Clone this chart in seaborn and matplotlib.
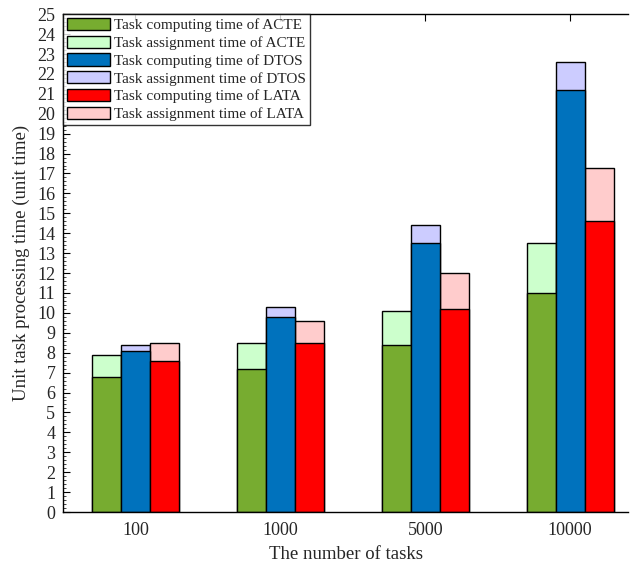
import pandas as pd
import seaborn as sns
import matplotlib.pyplot as plt
import matplotlib.ticker as ticker
from matplotlib.patches import Patch

# values
tasks = ['100', '1000', '5000', '10000']
methods = ['ACTE', 'DTOS', 'LATA']
compute_acte = [6.8, 7.2, 8.4, 11.0]
assign_acte = [1.1, 1.3, 1.7, 2.5]
compute_dtos = [8.1, 9.8, 13.5, 21.2]
assign_dtos = [0.3, 0.5, 0.9, 1.4]
compute_lata = [7.6, 8.5, 10.2, 14.6]
assign_lata = [0.9, 1.1, 1.8, 2.7]

dark = {'ACTE': '#77AC30', 'DTOS': '#0072BD', 'LATA': '#FF0000'}
light = {'ACTE': '#CCFFCC', 'DTOS': '#CCCCFF', 'LATA': '#FFCCCC'}


def main():
	comp = {'ACTE': compute_acte, 'DTOS': compute_dtos, 'LATA': compute_lata}
	asg = {'ACTE': assign_acte, 'DTOS': assign_dtos, 'LATA': assign_lata}

	rows = []
	for m in methods:
		for i, t in enumerate(tasks):
			rows.append({'tasks': t, 'method': m, 'compute': comp[m][i],
						 'total': comp[m][i] + asg[m][i]})
	data = pd.DataFrame(rows)

	sns.set_style('ticks')
	plt.rcParams['font.family'] = ['Liberation Serif', 'DejaVu Serif']

	fig = plt.figure(figsize=(6.3, 5.67), dpi=100)
	ax = fig.add_axes([0.1, 0.097, 0.897, 0.878])

	# total height first (assignment colour), computing part on top of it
	sns.barplot(data=data, x='tasks', y='total', hue='method', order=tasks,
				hue_order=methods, palette=light, width=0.6, saturation=1,
				edgecolor='black', linewidth=1, legend=False, ax=ax)
	sns.barplot(data=data, x='tasks', y='compute', hue='method', order=tasks,
				hue_order=methods, palette=dark, width=0.6, saturation=1,
				edgecolor='black', linewidth=1, legend=False, ax=ax)

	ax.set_xlim(-0.5, 3.4)
	ax.set_ylim(0, 25)
	ax.yaxis.set_major_locator(ticker.MultipleLocator(1))
	ax.yaxis.set_minor_locator(ticker.MultipleLocator(0.2))
	ax.tick_params(axis='both', which='major', direction='in', labelsize=13,
				   length=5, width=0.8, top=True, right=False, color='black')
	ax.tick_params(axis='x', which='major', pad=7)
	ax.tick_params(axis='y', which='major', pad=5.5)
	ax.tick_params(axis='y', which='minor', direction='in', length=2.5, width=0.6)
	for side in ['left', 'bottom', 'top']:
		ax.spines[side].set_visible(True)
		ax.spines[side].set_linewidth(1)
		ax.spines[side].set_color('black')
	ax.spines['right'].set_visible(False)

	ax.set_xlabel('The number of tasks', fontsize=13.5, labelpad=5)
	ax.set_ylabel('Unit task processing time (unit time)', fontsize=13.5, labelpad=5)

	handles = []
	labels = []
	for m in methods:
		handles.append(Patch(facecolor=dark[m], edgecolor='black', linewidth=1))
		labels.append('Task computing time of ' + m)
		handles.append(Patch(facecolor=light[m], edgecolor='black', linewidth=1))
		labels.append('Task assignment time of ' + m)
	leg = ax.legend(handles, labels, loc='upper left', fontsize=11,
					handlelength=2.8, handleheight=0.85, handletextpad=0.3,
					labelspacing=0.22, borderpad=0.25, borderaxespad=0.0,
					frameon=True, fancybox=False, edgecolor='black')
	leg.get_frame().set_linewidth(1)

	plt.savefig('out.png', dpi=100)
	plt.close()


if __name__ == "__main__":
	main()
